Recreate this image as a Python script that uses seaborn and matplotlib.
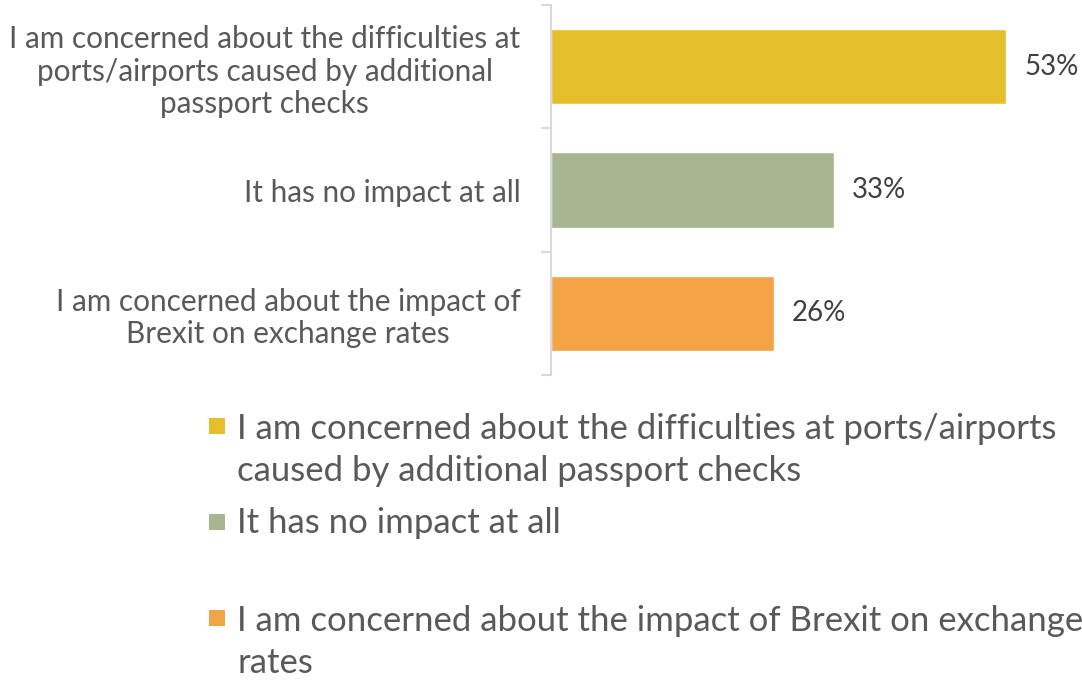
import matplotlib
matplotlib.use("Agg")
import matplotlib.pyplot as plt
from matplotlib.patches import Rectangle
import seaborn as sns
import pandas as pd

# data
categories = [
    "I am concerned about the difficulties at\nports/airports caused by additional\npassport checks",
    "It has no impact at all",
    "I am concerned about the impact of\nBrexit on exchange rates",
]
legend_labels = [
    "I am concerned about the difficulties at ports/airports\ncaused by additional passport checks",
    "It has no impact at all",
    "I am concerned about the impact of Brexit on exchange\nrates",
]
shares = [0.53, 0.33, 0.26]
colors = ["#E5BE2B", "#A7B591", "#F2A446"]

df = pd.DataFrame({"cat": categories, "share": shares})

sns.set_style("white")
plt.rcParams["font.family"] = ["Lato", "DejaVu Sans"]

fig = plt.figure(figsize=(10.82, 6.8), dpi=100)
ax = fig.add_axes([0.5092, 0.4485, 0.476, 0.544])

sns.barplot(data=df, y="cat", x="share", hue="cat", palette=colors,
            orient="h", width=0.61, saturation=1, legend=False, ax=ax)

ax.set_xlim(0, 0.6)
ax.set_ylim(2.5, -0.5)
ax.set_xlabel("")
ax.set_ylabel("")
ax.set_xticks([])

for s in ["top", "right", "bottom"]:
    ax.spines[s].set_visible(False)
ax.spines["left"].set_color("#D9D9D9")
ax.spines["left"].set_linewidth(1.5)

ax.set_yticks([-0.5, 0.5, 1.5, 2.5], minor=True)
ax.tick_params(axis="y", which="minor", length=7, width=1.5, color="#D9D9D9", left=True)
ax.tick_params(axis="y", which="major", length=0, pad=22, labelsize=21.4, labelcolor="#595959")
for lab in ax.get_yticklabels():
    lab.set_multialignment("center")
    lab.set_linespacing(1.2)

for cont in ax.containers:
    ax.bar_label(cont, labels=[f"{v*100:.0f}%" for v in cont.datavalues],
                 padding=13, fontsize=20, color="#404040")

# legend, square sits next to the first line of each entry
first_baseline = [437, 533, 629]
line_gap = 44
for lab, col, y in zip(legend_labels, colors, first_baseline):
    n_lines = lab.count("\n")
    fig.add_artist(Rectangle((209 / 1082, 1 - (y - 3) / 680), 16 / 1082, 16 / 680,
                             transform=fig.transFigure, color=col, lw=0))
    # va='baseline' puts the last line on y
    fig.text(237 / 1082, 1 - (y + n_lines * line_gap) / 680, lab, fontsize=25,
             color="#595959", va="baseline", ha="left", linespacing=1.4)

fig.savefig("out.png", dpi=100)
